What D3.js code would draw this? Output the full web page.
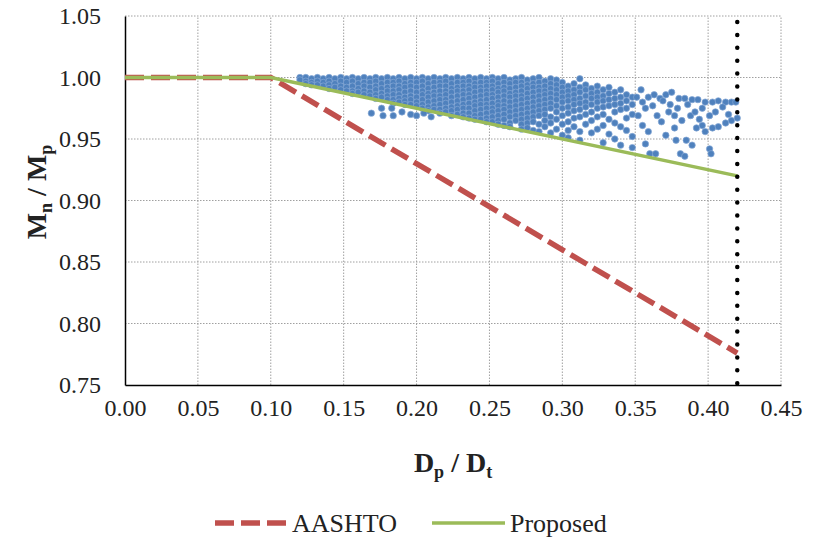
<!DOCTYPE html>
<html>
<head>
<meta charset="utf-8">
<script src="https://cdn.jsdelivr.net/npm/d3@7"></script>
<style>
  body { margin: 0; background: #fff; }
  text { font-family: "Liberation Serif", "Times New Roman", serif; fill: #222; }
</style>
</head>
<body>
<div id="chart"></div>
<script>
// Tick values
var xTicks = [0, 0.05, 0.10, 0.15, 0.20, 0.25, 0.30, 0.35, 0.40, 0.45];
var yTicks = [0.75, 0.80, 0.85, 0.90, 0.95, 1.00, 1.05];

// Design curves
var aashtoX = [0, 0.10, 0.42];
var aashtoY = [1.00, 1.00, 0.776];
var proposedX = [0, 0.10, 0.42];
var proposedY = [1.00, 1.00, 0.92];
var limitX = 0.42;

// Analysis results: [Dp/Dt, [Mn/Mp ...]]
var scatterCols = [
  [0.120, [1.000, 0.998]],
  [0.124, [1.000, 0.997, 0.995]],
  [0.128, [0.999, 0.996, 0.994]],
  [0.132, [1.000, 0.997, 0.994]],
  [0.136, [0.999, 0.996, 0.993]],
  [0.140, [1.000, 0.997, 0.994, 0.991]],
  [0.144, [0.999, 0.995, 0.992]],
  [0.148, [1.000, 0.997, 0.993, 0.990]],
  [0.152, [0.999, 0.996, 0.992, 0.989]],
  [0.156, [1.000, 0.997, 0.993, 0.989, 0.987]],
  [0.160, [0.999, 0.995, 0.991, 0.988]],
  [0.164, [1.000, 0.996, 0.993, 0.989, 0.986]],
  [0.168, [0.999, 0.996, 0.992, 0.988, 0.985]],
  [0.172, [1.000, 0.997, 0.993, 0.990, 0.986, 0.983]],
  [0.176, [0.999, 0.995, 0.991, 0.987, 0.984]],
  [0.180, [1.000, 0.996, 0.992, 0.989, 0.985, 0.982]],
  [0.184, [0.999, 0.996, 0.993, 0.989, 0.986, 0.982, 0.979]],
  [0.188, [1.000, 0.997, 0.993, 0.990, 0.986, 0.983, 0.980]],
  [0.192, [0.999, 0.995, 0.992, 0.988, 0.984, 0.981, 0.978]],
  [0.196, [1.000, 0.996, 0.993, 0.989, 0.985, 0.982, 0.978]],
  [0.200, [0.999, 0.996, 0.992, 0.988, 0.984, 0.980, 0.977]],
  [0.204, [1.000, 0.997, 0.993, 0.989, 0.986, 0.982, 0.978, 0.975]],
  [0.208, [0.999, 0.995, 0.991, 0.987, 0.984, 0.980, 0.976, 0.973]],
  [0.212, [1.000, 0.996, 0.992, 0.988, 0.985, 0.981, 0.977, 0.974]],
  [0.216, [0.999, 0.996, 0.993, 0.989, 0.985, 0.982, 0.978, 0.974, 0.971]],
  [0.220, [1.000, 0.997, 0.993, 0.989, 0.986, 0.982, 0.979, 0.975, 0.972]],
  [0.224, [0.999, 0.995, 0.991, 0.988, 0.984, 0.980, 0.976, 0.973, 0.969]],
  [0.228, [1.000, 0.996, 0.992, 0.989, 0.985, 0.981, 0.977, 0.974, 0.970]],
  [0.232, [0.999, 0.996, 0.993, 0.989, 0.986, 0.982, 0.978, 0.975, 0.971, 0.968]],
  [0.236, [1.000, 0.997, 0.993, 0.990, 0.986, 0.983, 0.979, 0.975, 0.971, 0.967]],
  [0.240, [0.999, 0.995, 0.992, 0.988, 0.984, 0.980, 0.977, 0.973, 0.969, 0.966]],
  [0.244, [1.000, 0.996, 0.992, 0.989, 0.985, 0.981, 0.978, 0.974, 0.970, 0.966]],
  [0.248, [0.999, 0.996, 0.993, 0.989, 0.986, 0.982, 0.978, 0.975, 0.971, 0.967, 0.964]],
  [0.252, [1.000, 0.997, 0.993, 0.990, 0.986, 0.983, 0.979, 0.975, 0.972, 0.968, 0.964]],
  [0.256, [0.999, 0.995, 0.991, 0.988, 0.984, 0.980, 0.977, 0.973, 0.969, 0.965, 0.962]],
  [0.260, [1.000, 0.996, 0.992, 0.989, 0.985, 0.981, 0.977, 0.974, 0.970, 0.966, 0.961]],
  [0.264, [0.998, 0.995, 0.991, 0.987, 0.984, 0.980, 0.976, 0.972, 0.968, 0.963, 0.960]],
  [0.268, [0.999, 0.996, 0.992, 0.988, 0.985, 0.981, 0.977, 0.973, 0.969, 0.965]],
  [0.272, [1.000, 0.996, 0.993, 0.989, 0.985, 0.982, 0.978, 0.974, 0.970, 0.966, 0.962, 0.958]],
  [0.276, [0.998, 0.994, 0.991, 0.987, 0.983, 0.979, 0.975, 0.971, 0.967, 0.963, 0.959]],
  [0.280, [0.999, 0.995, 0.992, 0.988, 0.984, 0.980, 0.976, 0.972, 0.968, 0.964, 0.957]],
  [0.284, [1.000, 0.996, 0.992, 0.989, 0.985, 0.981, 0.977, 0.973, 0.969, 0.962, 0.956]],
  [0.288, [0.997, 0.993, 0.989, 0.986, 0.982, 0.978, 0.974, 0.970, 0.965, 0.960]],
  [0.292, [0.999, 0.995, 0.991, 0.987, 0.983, 0.979, 0.975, 0.968, 0.963, 0.955]],
  [0.296, [0.998, 0.994, 0.990, 0.986, 0.982, 0.977, 0.972, 0.966, 0.958]],
  [0.300, [0.996, 0.992, 0.988, 0.984, 0.980, 0.975, 0.969, 0.962, 0.953]],
  [0.304, [0.993, 0.989, 0.985, 0.981, 0.976, 0.971, 0.964, 0.957, 0.951]],
  [0.308, [0.995, 0.990, 0.986, 0.982, 0.978, 0.973, 0.967, 0.960]],
  [0.312, [0.999, 0.992, 0.988, 0.983, 0.979, 0.974, 0.968, 0.956, 0.949]],
  [0.316, [0.994, 0.990, 0.985, 0.980, 0.976, 0.970, 0.962]],
  [0.320, [0.991, 0.987, 0.983, 0.978, 0.972, 0.965, 0.955]],
  [0.324, [0.993, 0.988, 0.984, 0.980, 0.975, 0.968, 0.958]],
  [0.328, [0.990, 0.985, 0.981, 0.976, 0.970, 0.961, 0.947]],
  [0.332, [0.992, 0.987, 0.982, 0.977, 0.966, 0.954]],
  [0.336, [0.988, 0.983, 0.978, 0.972, 0.963, 0.950]],
  [0.340, [0.990, 0.984, 0.979, 0.974, 0.960, 0.945]],
  [0.344, [0.986, 0.981, 0.975, 0.967, 0.957]],
  [0.348, [0.984, 0.978, 0.970, 0.952, 0.943]]
];

// Scattered points that fall outside the main band
var scatterX = [0.169, 0.176, 0.177, 0.183, 0.184, 0.190, 0.196, 0.200, 0.205, 0.210,
  0.351, 0.355, 0.359, 0.357, 0.352, 0.355, 0.359, 0.357, 0.360, 0.364,
  0.365, 0.368, 0.367, 0.371, 0.375, 0.374, 0.371, 0.373, 0.377, 0.380,
  0.378, 0.382, 0.381, 0.384, 0.384, 0.388, 0.389, 0.391, 0.393, 0.392,
  0.396, 0.398, 0.398, 0.403, 0.403, 0.401, 0.401, 0.402, 0.407, 0.407,
  0.412, 0.412, 0.416, 0.416, 0.396, 0.385, 0.377, 0.389, 0.419, 0.420,
  0.362, 0.369, 0.379, 0.386, 0.394, 0.405, 0.410, 0.414, 0.354, 0.363];
var scatterY = [0.971, 0.975, 0.969, 0.975, 0.969, 0.972, 0.970, 0.969, 0.971, 0.968,
  0.984, 0.980, 0.984, 0.975, 0.969, 0.961, 0.956, 0.946, 0.938, 0.938,
  0.969, 0.964, 0.983, 0.986, 0.988, 0.978, 0.953, 0.972, 0.969, 0.983,
  0.949, 0.965, 0.938, 0.936, 0.983, 0.969, 0.982, 0.972, 0.982, 0.959,
  0.975, 0.980, 0.956, 0.980, 0.959, 0.969, 0.942, 0.938, 0.981, 0.960,
  0.980, 0.963, 0.980, 0.965, 0.961, 0.949, 0.959, 0.945, 0.980, 0.967,
  0.977, 0.981, 0.975, 0.978, 0.966, 0.972, 0.976, 0.970, 0.990, 0.986];

var legendItems = ["AASHTO", "Proposed"];

var width = 821, height = 540;
var margin = {left: 125, right: 40, top: 16, bottom: 155};

var svg = d3.select("#chart")
    .append("svg")
    .attr("width", width)
    .attr("height", height);

var x = d3.scaleLinear().domain([0, 0.45]).range([margin.left, width - margin.right]);
var y = d3.scaleLinear().domain([0.75, 1.05]).range([height - margin.bottom, margin.top]);

// Dotted gridlines
svg.append("g").selectAll("line")
    .data(xTicks.slice(1))
    .enter().append("line")
    .attr("x1", function(d) { return x(d); })
    .attr("x2", function(d) { return x(d); })
    .attr("y1", y(0.75))
    .attr("y2", y(1.05))
    .attr("stroke", "#a0a0a0")
    .attr("stroke-dasharray", "1.5,1.5");

svg.append("g").selectAll("line")
    .data(yTicks.slice(1))
    .enter().append("line")
    .attr("x1", x(0))
    .attr("x2", x(0.45))
    .attr("y1", function(d) { return y(d); })
    .attr("y2", function(d) { return y(d); })
    .attr("stroke", "#a0a0a0")
    .attr("stroke-dasharray", "1.5,1.5");

// Axes
var xAxis = svg.append("g")
    .attr("transform", "translate(0," + y(0.75) + ")")
    .call(d3.axisBottom(x).tickValues(xTicks).tickFormat(d3.format(".2f")).tickSize(0).tickPadding(14));
var yAxis = svg.append("g")
    .attr("transform", "translate(" + x(0) + ",0)")
    .call(d3.axisLeft(y).tickValues(yTicks).tickFormat(d3.format(".2f")).tickSize(0).tickPadding(24));

[xAxis, yAxis].forEach(function(a) {
    a.attr("font-family", "'Liberation Serif', serif");
    a.select(".domain").attr("stroke", "#000").attr("stroke-width", 1.5);
    a.selectAll("text")
        .style("font-family", "'Liberation Serif', serif")
        .style("font-size", "24px")
        .attr("fill", "#222");
});

// Scatter points
var points = [];
scatterCols.forEach(function(c) {
    c[1].forEach(function(v) { points.push([c[0], v]); });
});
scatterX.forEach(function(v, i) { points.push([v, scatterY[i]]); });

svg.append("g").selectAll("circle")
    .data(points)
    .enter().append("circle")
    .attr("cx", function(d) { return x(d[0]); })
    .attr("cy", function(d) { return y(d[1]); })
    .attr("r", 3.2)
    .attr("fill", "#4f81bd")
    .attr("stroke", "#85a8d6")
    .attr("stroke-width", 0.7);

// Design curves
var line = d3.line()
    .x(function(d) { return x(d[0]); })
    .y(function(d) { return y(d[1]); });

svg.append("path")
    .datum(aashtoX.map(function(v, i) { return [v, aashtoY[i]]; }))
    .attr("d", line)
    .attr("fill", "none")
    .attr("stroke", "#c0504d")
    .attr("stroke-width", 5.5)
    .attr("stroke-dasharray", "19,7");

svg.append("path")
    .datum(proposedX.map(function(v, i) { return [v, proposedY[i]]; }))
    .attr("d", line)
    .attr("fill", "none")
    .attr("stroke", "#9bbb59")
    .attr("stroke-width", 3.5);

// Dp/Dt limit
svg.append("line")
    .attr("x1", x(limitX))
    .attr("x2", x(limitX))
    .attr("y1", y(1.05) + 6)
    .attr("y2", y(0.75))
    .attr("stroke", "#000")
    .attr("stroke-width", 4.5)
    .attr("stroke-linecap", "round")
    .attr("stroke-dasharray", "0,12.9");

// Axis titles
var xTitle = svg.append("text")
    .attr("x", x(0.225))
    .attr("y", 472)
    .attr("text-anchor", "middle")
    .style("font-size", "28px")
    .style("font-weight", "bold");
xTitle.append("tspan").text("D");
xTitle.append("tspan").attr("dy", 6).style("font-size", "18px").text("p");
xTitle.append("tspan").attr("dy", -6).text(" / D");
xTitle.append("tspan").attr("dy", 6).style("font-size", "18px").text("t");

var yTitle = svg.append("text")
    .attr("transform", "translate(46," + 192 + ") rotate(-90)")
    .attr("text-anchor", "middle")
    .style("font-size", "28px")
    .style("font-weight", "bold");
yTitle.append("tspan").text("M");
yTitle.append("tspan").attr("dy", 6).style("font-size", "18px").text("n");
yTitle.append("tspan").attr("dy", -6).text(" / M");
yTitle.append("tspan").attr("dy", 6).style("font-size", "18px").text("p");

// Legend
var legend = svg.append("g").attr("transform", "translate(0,523)");
legend.append("line")
    .attr("x1", 215).attr("x2", 289)
    .attr("stroke", "#c0504d")
    .attr("stroke-width", 5.5)
    .attr("stroke-dasharray", "19,7");
legend.append("text")
    .attr("x", 292).attr("y", 9)
    .style("font-size", "26px")
    .text(legendItems[0]);
legend.append("line")
    .attr("x1", 432).attr("x2", 505)
    .attr("stroke", "#9bbb59")
    .attr("stroke-width", 3.5);
legend.append("text")
    .attr("x", 510).attr("y", 9)
    .style("font-size", "26px")
    .text(legendItems[1]);
</script>
</body>
</html>
